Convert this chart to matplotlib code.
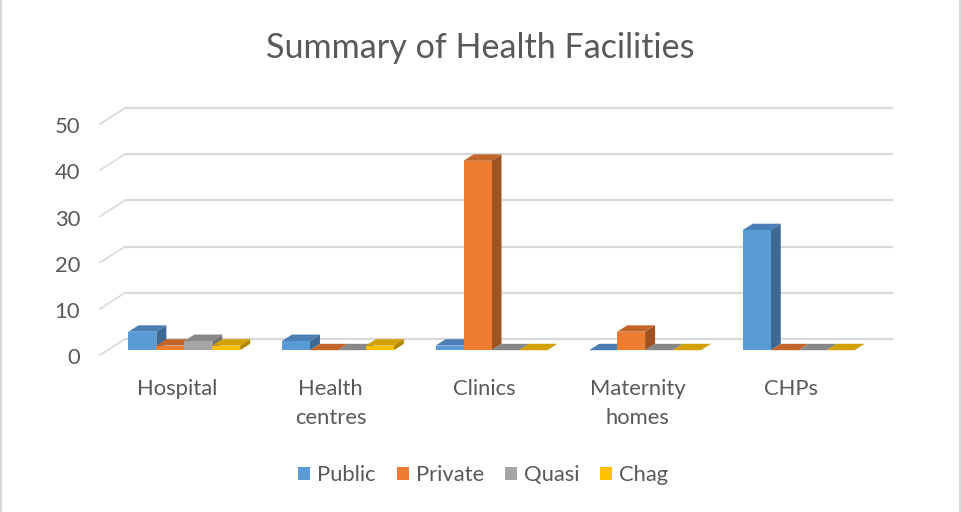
import numpy as np
import matplotlib.pyplot as plt
from matplotlib.patches import Polygon, Rectangle
from matplotlib.lines import Line2D

categories = ["Hospital", "Health\ncentres", "Clinics", "Maternity\nhomes", "CHPs"]
series = ["Public", "Private", "Quasi", "Chag"]
public = [4, 2, 1, 0, 26]
private = [1, 0, 41, 4, 0]
quasi = [2, 0, 0, 0, 0]
chag = [1, 1, 0, 0, 0]
yticks = [0, 10, 20, 30, 40, 50]

values = [public, private, quasi, chag]
front = ["#5B9BD5", "#ED7D31", "#A5A5A5", "#FFC000"]
top = ["#4A7EB4", "#C2652A", "#878787", "#D2A000"]
side = ["#3D6A95", "#9E5322", "#747474", "#B08600"]

font = "Lato"
txt = "#595959"

# oblique "3d": full depth shift in data units
DX = 25 / 153.6
DY = 16 / 4.62
w = 0.182
d0, d1 = 0.3, 0.7

fig = plt.figure(figsize=(9.61, 5.12), dpi=100)
# axes placed in pixels: x -0.6..4.75, y -1..55
left_px = 100 - 0.1 * 153.6
right_px = 100 + 5.25 * 153.6
bot_px = 355 + 4.62
top_px = 355 - 55 * 4.62
ax = fig.add_axes([left_px / 961, (512 - bot_px) / 512,
                   (right_px - left_px) / 961, (bot_px - top_px) / 512])
ax.set_xlim(-0.6, 4.75)
ax.set_ylim(-1, 55)
ax.axis("off")

# back wall gridlines + left diagonals
xl, xr = -0.5, 4.5
for t in yticks:
    ax.plot([xl + DX, xr + DX], [t + DY, t + DY], color="#D9D9D9", lw=1.6, zorder=1, solid_capstyle="butt")
    ax.plot([xl, xl + DX], [t, t + DY], color="#D9D9D9", lw=1.2, zorder=1)
    ax.text(xl - 0.13, t - 0.7, str(t), ha="right", va="center", fontsize=15.8, color=txt, family=font)

z = 2
for i in range(len(categories)):
    for k in range(len(series)):
        v = values[k][i]
        x0 = i - 2 * w + k * w + d0 * DX
        y0 = d0 * DY
        dx = (d1 - d0) * DX
        dy = (d1 - d0) * DY
        ax.add_patch(Polygon([(x0 + w, y0), (x0 + w, y0 + v), (x0 + w + dx, y0 + v + dy), (x0 + w + dx, y0 + dy)],
                             closed=True, facecolor=side[k], edgecolor="none", zorder=z))
        ax.add_patch(Polygon([(x0, y0 + v), (x0 + w, y0 + v), (x0 + w + dx, y0 + v + dy), (x0 + dx, y0 + v + dy)],
                             closed=True, facecolor=top[k], edgecolor="none", zorder=z + 1))
        if v > 0:
            ax.add_patch(Rectangle((x0, y0), w, v, facecolor=front[k], edgecolor="none", zorder=z + 2))
        z += 3

for i, c in enumerate(categories):
    ax.text(i, -5.2, c, ha="center", va="top", fontsize=15.8, color=txt, family=font, linespacing=1.55)

fig.text(0.5, 0.906, "Summary of Health Facilities", ha="center", va="center",
         fontsize=24.6, color=txt, family=font)

handles = [Rectangle((0, 0), 1, 1, facecolor=c, edgecolor="none") for c in front]
fig.legend(handles, series, loc="center", bbox_to_anchor=(0.503, 0.072), ncol=4, frameon=False,
           prop={"family": font, "size": 15.8}, labelcolor=txt, handlelength=0.55, handleheight=0.55,
           handletextpad=0.32, columnspacing=0.95)

fig.add_artist(Line2D([0.001, 0.001], [0, 1], color="#D9D9D9", lw=1.5, transform=fig.transFigure))
fig.add_artist(Line2D([0.9985, 0.9985], [0, 1], color="#D9D9D9", lw=1.5, transform=fig.transFigure))

fig.savefig("out.png", dpi=100)
